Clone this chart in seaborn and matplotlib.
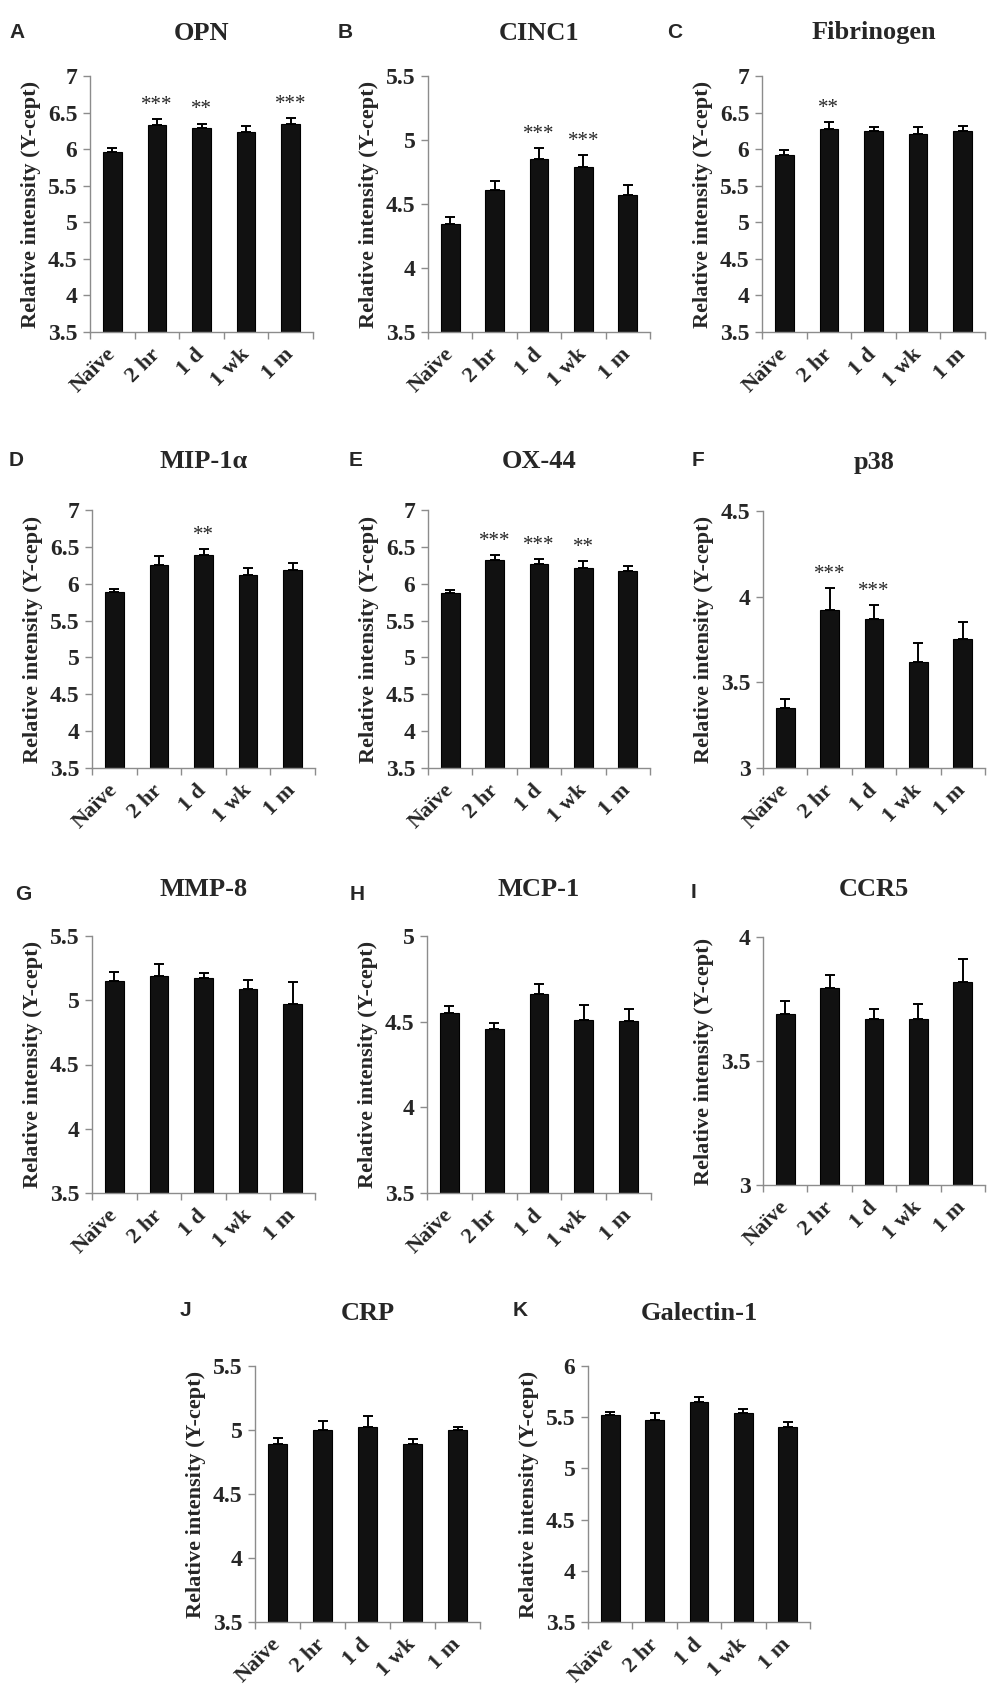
import numpy as np
import pandas as pd
import matplotlib
matplotlib.use('Agg')
import matplotlib.pyplot as plt
import seaborn as sns

times = ['Naïve', '2 hr', '1 d', '1 wk', '1 m']

letters = ['A', 'B', 'C', 'D', 'E', 'F', 'G', 'H', 'I', 'J', 'K']
titles = ['OPN', 'CINC1', 'Fibrinogen', 'MIP-1α', 'OX-44', 'p38',
          'MMP-8', 'MCP-1', 'CCR5', 'CRP', 'Galectin-1']

# mean values per panel (Naive, 2 hr, 1 d, 1 wk, 1 m)
opn = [5.96, 6.33, 6.29, 6.23, 6.35]
cinc1 = [4.34, 4.61, 4.85, 4.79, 4.57]
fibrinogen = [5.92, 6.27, 6.25, 6.21, 6.25]
mip1a = [5.89, 6.25, 6.39, 6.12, 6.19]
ox44 = [5.88, 6.32, 6.27, 6.21, 6.17]
p38 = [3.35, 3.92, 3.87, 3.62, 3.75]
mmp8 = [5.15, 5.19, 5.17, 5.09, 4.97]
mcp1 = [4.55, 4.455, 4.66, 4.51, 4.505]
ccr5 = [3.69, 3.795, 3.67, 3.67, 3.82]
crp = [4.89, 5.0, 5.02, 4.89, 5.0]
galectin1 = [5.52, 5.47, 5.645, 5.54, 5.40]

# upper error (SEM)
opn_err = [0.05, 0.08, 0.06, 0.09, 0.07]
cinc1_err = [0.06, 0.07, 0.09, 0.09, 0.08]
fibrinogen_err = [0.07, 0.10, 0.05, 0.09, 0.07]
mip1a_err = [0.04, 0.13, 0.08, 0.09, 0.09]
ox44_err = [0.03, 0.07, 0.06, 0.10, 0.07]
p38_err = [0.05, 0.13, 0.08, 0.11, 0.10]
mmp8_err = [0.07, 0.09, 0.04, 0.07, 0.17]
mcp1_err = [0.04, 0.04, 0.06, 0.09, 0.07]
ccr5_err = [0.05, 0.05, 0.04, 0.06, 0.09]
crp_err = [0.05, 0.07, 0.09, 0.04, 0.02]
galectin1_err = [0.03, 0.07, 0.05, 0.04, 0.05]

# significance marks
opn_sig = ['', '***', '**', '', '***']
cinc1_sig = ['', '', '***', '***', '']
fibrinogen_sig = ['', '**', '', '', '']
mip1a_sig = ['', '', '**', '', '']
ox44_sig = ['', '***', '***', '**', '']
p38_sig = ['', '***', '***', '', '']
none_sig = ['', '', '', '', '']

y_ranges = [(3.5, 7), (3.5, 5.5), (3.5, 7), (3.5, 7), (3.5, 7), (3, 4.5),
            (3.5, 5.5), (3.5, 5), (3, 4), (3.5, 5.5), (3.5, 6)]

means = [opn, cinc1, fibrinogen, mip1a, ox44, p38, mmp8, mcp1, ccr5, crp, galectin1]
errs = [opn_err, cinc1_err, fibrinogen_err, mip1a_err, ox44_err, p38_err,
        mmp8_err, mcp1_err, ccr5_err, crp_err, galectin1_err]
sigs = [opn_sig, cinc1_sig, fibrinogen_sig, mip1a_sig, ox44_sig, p38_sig,
        none_sig, none_sig, none_sig, none_sig, none_sig]

# layout in pixels: axes (left, top, right, bottom), letter pos, title y
W, H = 992, 1691
boxes = [(90, 76, 313, 332), (428, 76, 650, 332), (762, 76, 985, 332),
         (92, 510, 315, 768), (428, 510, 650, 768), (763, 511, 985, 768),
         (92, 936, 315, 1193), (427, 936, 651, 1193), (763, 937, 985, 1185),
         (255, 1366, 480, 1622), (588, 1366, 810, 1622)]
letter_pos = [(17, 33), (345, 33), (675, 33), (16, 460), (356, 460), (698, 460),
              (23, 895), (357, 895), (693, 893), (185, 1310), (520, 1310)]
title_y = [33, 33, 33, 462, 462, 462, 890, 890, 890, 1313, 1313]

sns.set_style('white')
plt.rcParams['font.family'] = ['Liberation Serif', 'DejaVu Serif']
plt.rcParams['font.weight'] = 'bold'
plt.rcParams['axes.labelweight'] = 'bold'

spine_col = '#8c8c8c'
fig = plt.figure(figsize=(W / 100, H / 100), dpi=100)

for k in range(11):
    l, t, r, b = boxes[k]
    ax = fig.add_axes([l / W, 1 - b / H, (r - l) / W, (b - t) / H])
    df = pd.DataFrame({'time': times, 'value': means[k]})
    sns.barplot(data=df, x='time', y='value', color='#111111', edgecolor='black',
                linewidth=0.8, width=0.42, errorbar=None, saturation=1, ax=ax)
    ax.errorbar(np.arange(5), means[k], yerr=[np.zeros(5), errs[k]], fmt='none',
                ecolor='black', elinewidth=1.4, capsize=3.5, capthick=1.4)
    for i in range(5):
        if sigs[k][i]:
            ax.annotate(sigs[k][i], xy=(i, means[k][i] + errs[k][i]), xytext=(0, 3),
                        textcoords='offset points', ha='center', va='bottom',
                        fontsize=15, fontweight='normal')
    lo, hi = y_ranges[k]
    ax.set_ylim(lo, hi)
    ax.set_xlim(-0.5, 4.5)
    ax.set_yticks(np.arange(lo, hi + 0.01, 0.5))
    ax.set_yticklabels(['%g' % v for v in np.arange(lo, hi + 0.01, 0.5)],
                       fontsize=17, fontweight='bold')
    ax.set_xticks(range(5))
    ax.set_xticklabels(times, rotation=45, ha='right', va='center',
                       rotation_mode='anchor', fontsize=16, fontweight='bold')
    ax.set_xticks(np.arange(-0.5, 5, 1), minor=True)
    ax.tick_params(axis='x', which='major', length=0, pad=14)
    ax.tick_params(axis='x', which='minor', length=5, width=1, color=spine_col,
                   direction='out', bottom=True)
    ax.tick_params(axis='y', length=5, width=1, color=spine_col, direction='out',
                   left=True, pad=4)
    ax.set_xlabel('')
    ax.set_ylabel('Relative intensity (Y-cept)', fontsize=16, fontweight='bold',
                  labelpad=5)
    for s in ['top', 'right']:
        ax.spines[s].set_visible(False)
    for s in ['left', 'bottom']:
        ax.spines[s].set_color(spine_col)
        ax.spines[s].set_linewidth(1)
    fig.text((l + r) / 2 / W, 1 - title_y[k] / H, titles[k], ha='center', va='center',
             fontsize=19, fontweight='bold')
    lx, ly = letter_pos[k]
    fig.text(lx / W, 1 - ly / H, letters[k], ha='center', va='center', fontsize=15,
             fontweight='bold', family=['Liberation Sans', 'DejaVu Sans'])

fig.savefig('out.png', dpi=100, facecolor='white')
